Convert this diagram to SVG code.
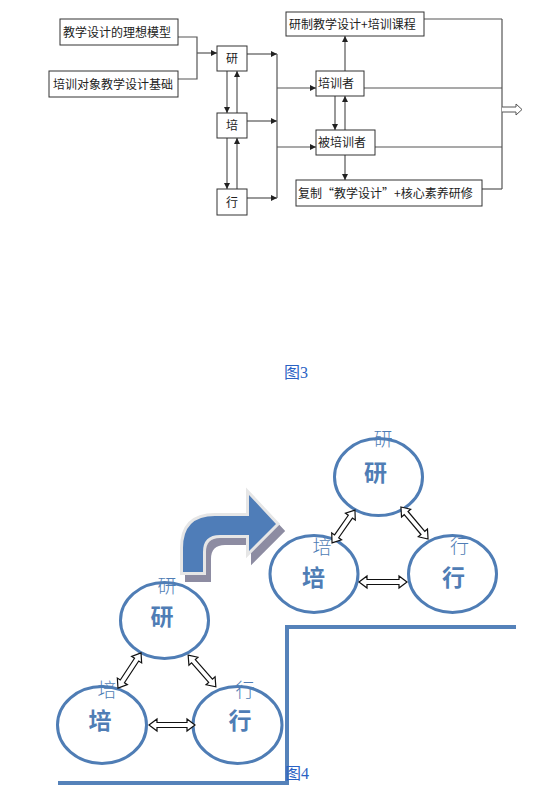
<svg xmlns="http://www.w3.org/2000/svg" width="544" height="794" viewBox="0 0 544 794">
<style>
.box{fill:#fff;stroke:#333;stroke-width:1}
.t{font-family:"Noto Sans CJK SC","Liberation Sans",sans-serif;font-size:12px;fill:#222}
.ln{fill:none;stroke:#555;stroke-width:1.2}
.ar{fill:none;stroke:#555;stroke-width:1.2;marker-end:url(#ah)}
.cap{font-family:"Liberation Serif","Noto Sans CJK SC",serif;font-size:16px;fill:#2a62c4}
.el{fill:#fff;stroke:#4f7db5;stroke-width:3}
.big{font-family:"Noto Sans CJK SC",sans-serif;font-size:23px;font-weight:bold;fill:#4f7db5;text-anchor:middle}
.sm{font-family:"Noto Sans CJK SC",sans-serif;font-size:19px;font-weight:300;fill:#4f7db5;text-anchor:middle}
.dbl{fill:#fff;stroke:#111;stroke-width:1.2}
.step{fill:none;stroke:#5582ba;stroke-width:4}
</style>
<defs>
<marker id="ah" markerWidth="7" markerHeight="7" refX="6" refY="3" orient="auto" markerUnits="userSpaceOnUse">
<path d="M0,0 L6,3 L0,6 z" fill="#222"/>
</marker>
</defs>

<!-- Figure 3 flowchart -->
<g id="connectors">
<polyline class="ln" points="178,37 197,37 197,79 178,79"/>
<line class="ar" x1="197" y1="53" x2="217" y2="53"/>
<line class="ar" x1="247" y1="54" x2="277" y2="54"/>
<line class="ar" x1="247" y1="121" x2="277" y2="121"/>
<line class="ar" x1="247" y1="198" x2="277" y2="198"/>
<line class="ln" x1="277" y1="54" x2="277" y2="198"/>
<line class="ar" x1="277" y1="88" x2="316" y2="88"/>
<line class="ar" x1="277" y1="147" x2="316" y2="147"/>
<line class="ar" x1="227" y1="71" x2="227" y2="113"/>
<line class="ar" x1="237" y1="113" x2="237" y2="71"/>
<line class="ar" x1="227" y1="138" x2="227" y2="189"/>
<line class="ar" x1="237" y1="189" x2="237" y2="138"/>
<line class="ar" x1="345" y1="71" x2="345" y2="36"/>
<line class="ar" x1="335" y1="96" x2="335" y2="130"/>
<line class="ar" x1="345" y1="130" x2="345" y2="96"/>
<line class="ar" x1="345" y1="155" x2="345" y2="180"/>
<line class="ln" x1="424" y1="19" x2="502" y2="19"/>
<line class="ln" x1="364" y1="88" x2="502" y2="88"/>
<line class="ln" x1="375" y1="147" x2="502" y2="147"/>
<line class="ln" x1="482" y1="189" x2="502" y2="189"/>
<line class="ln" x1="502" y1="19" x2="502" y2="189"/>
<path d="M502,107 L516,107 L516,104 L522,109.5 L516,115 L516,112 L502,112" fill="#fff" stroke="#555" stroke-width="1"/>
</g>

<g id="n-model"><rect class="box" x="60" y="19" width="118" height="26"/><text class="t" x="63" y="36.5">教学设计的理想模型</text></g>
<g id="n-basis"><rect class="box" x="49" y="71" width="129" height="26"/><text class="t" x="53" y="88.5">培训对象教学设计基础</text></g>
<g id="n-yan"><rect class="box" x="217" y="46" width="30" height="25"/><text class="t" x="232" y="63" text-anchor="middle">研</text></g>
<g id="n-pei"><rect class="box" x="217" y="113" width="30" height="25"/><text class="t" x="232" y="130" text-anchor="middle">培</text></g>
<g id="n-xing"><rect class="box" x="217" y="189" width="30" height="26"/><text class="t" x="232" y="206.5" text-anchor="middle">行</text></g>
<g id="n-course"><rect class="box" x="286" y="12" width="138" height="24"/><text class="t" x="289" y="28.5">研制教学设计+培训课程</text></g>
<g id="n-trainer"><rect class="box" x="316" y="71" width="48" height="25"/><text class="t" x="318" y="88">培训者</text></g>
<g id="n-trainee"><rect class="box" x="316" y="130" width="59" height="25"/><text class="t" x="318" y="147">被培训者</text></g>
<g id="n-copy"><rect class="box" x="296" y="180" width="186" height="26"/><text class="t" x="298" y="197.5">复制“教学设计”+核心素养研修</text></g>

<text class="cap" x="284" y="378">图3</text>

<!-- Figure 4 -->
<polyline class="step" points="58,783 287,783 287,627 516,627"/>

<g id="bent-arrow">
<path d="M183,572 L183,548 Q183,516 215,516 L249,516 L249,495 L276,524 L249,551 L249,535 L220,535 Q203,535 203,552 L203,572 Z" fill="#8d8ca2" stroke="#8d8ca2" stroke-width="6" transform="translate(5,7)"/>
<path d="M183,572 L183,548 Q183,516 215,516 L249,516 L249,495 L276,524 L249,551 L249,535 L220,535 Q203,535 203,552 L203,572 Z" fill="#4f7db8" stroke="#e6e6e6" stroke-width="6" paint-order="stroke"/>
</g>

<g id="tr-yan"><ellipse class="el" cx="378.5" cy="477" rx="44" ry="38.5"/><text class="sm" x="383" y="446">研</text><text class="big" x="375.5" y="481">研</text></g>
<g id="tr-pei"><ellipse class="el" cx="314" cy="574" rx="44" ry="38.5"/><text class="sm" x="322" y="554">培</text><text class="big" x="313.5" y="586">培</text></g>
<g id="tr-xing"><ellipse class="el" cx="452.5" cy="574" rx="44" ry="38.5"/><text class="sm" x="459.5" y="553">行</text><text class="big" x="453.5" y="586">行</text></g>

<g id="bl-yan"><ellipse class="el" cx="164.5" cy="620.5" rx="44" ry="38"/><text class="sm" x="167" y="593">研</text><text class="big" x="162" y="625">研</text></g>
<g id="bl-pei"><ellipse class="el" cx="102" cy="725" rx="44.5" ry="38.5"/><text class="sm" x="107" y="697">培</text><text class="big" x="100" y="729">培</text></g>
<g id="bl-xing"><ellipse class="el" cx="237.5" cy="725" rx="44.5" ry="38.5"/><text class="sm" x="245" y="697">行</text><text class="big" x="240" y="729">行</text></g>

<g id="double-arrows">
<path class="dbl" transform="translate(172,725)" d="M-23,0 L-15,-6 L-15,-2.5 L15,-2.5 L15,-6 L23,0 L15,6 L15,2.5 L-15,2.5 L-15,6 Z"/>
<path class="dbl" transform="translate(129.5,670.5) rotate(-56.7)" d="M-21,0 L-13,-6 L-13,-2.5 L13,-2.5 L13,-6 L21,0 L13,6 L13,2.5 L-13,2.5 L-13,6 Z"/>
<path class="dbl" transform="translate(202,671) rotate(48.8)" d="M-21,0 L-13,-6 L-13,-2.5 L13,-2.5 L13,-6 L21,0 L13,6 L13,2.5 L-13,2.5 L-13,6 Z"/>
<path class="dbl" transform="translate(383,582)" d="M-24,0 L-16,-6 L-16,-2.5 L16,-2.5 L16,-6 L24,0 L16,6 L16,2.5 L-16,2.5 L-16,6 Z"/>
<path class="dbl" transform="translate(343.5,526.5) rotate(-55.1)" d="M-20,0 L-12,-6 L-12,-2.5 L12,-2.5 L12,-6 L20,0 L12,6 L12,2.5 L-12,2.5 L-12,6 Z"/>
<path class="dbl" transform="translate(414.5,523) rotate(49.8)" d="M-21,0 L-13,-6 L-13,-2.5 L13,-2.5 L13,-6 L21,0 L13,6 L13,2.5 L-13,2.5 L-13,6 Z"/>
</g>

<text class="cap" x="285" y="779">图4</text>
</svg>
